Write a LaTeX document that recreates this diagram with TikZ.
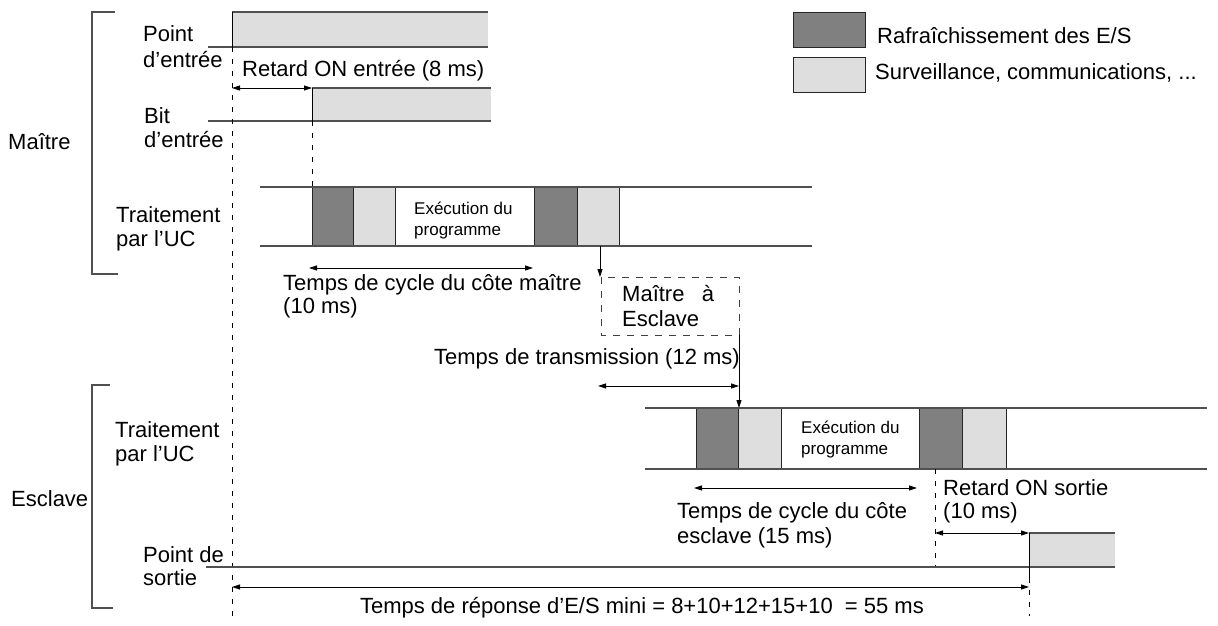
\documentclass[tikz,border=0pt]{standalone}
\usepackage{fontspec}
\setmainfont{Liberation Sans}
\usetikzlibrary{arrows.meta}
\definecolor{iodark}{RGB}{128,128,128}
\definecolor{iolight}{RGB}{222,222,222}
\definecolor{linegray}{RGB}{80,80,80}
\begin{document}
\begin{tikzpicture}[x=1pt,y=-1pt,
  font=\fontsize{22}{26}\selectfont,
  lbl/.style={anchor=base west, inner sep=0pt},
  lble/.style={anchor=base east, inner sep=0pt},
  smalltxt/.style={anchor=base west, inner sep=0pt, font=\fontsize{17}{20}\selectfont},
  darkblk/.style={fill=iodark, draw=black!85, line width=0.9pt},
  lightblk/.style={fill=iolight, draw=black!85, line width=0.9pt},
  track/.style={draw=linegray, line width=1.2pt},
  edge/.style={draw=black, line width=1pt},
  guide/.style={draw=black, line width=0.8pt, dash pattern=on 5pt off 7pt},
  dim/.style={{Triangle[length=8pt,width=5pt]}-{Triangle[length=8pt,width=5pt]}, line width=0.8pt},
  onearrow/.style={-{Triangle[length=8pt,width=5pt]}, line width=0.8pt},
  brk/.style={draw=linegray, line width=1.5pt},
  dbox/.style={draw=black!75, line width=0.9pt, dash pattern=on 7pt off 7pt}]
\useasboundingbox (0,0) rectangle (1218,626);

% ---------- legend ----------
\draw[darkblk] (793,12) rectangle (865,47);
\draw[lightblk] (793,57) rectangle (865,92);
\node[lbl] (legdark) at (877,44) {Rafraîchissement des E/S};
\node[lbl] (leglight) at (875,79) {Surveillance, communications, ...};

% ---------- brackets ----------
\draw[brk] (115,12) -- (92,12) -- (92,274) -- (118,274);
\node[lbl] (maitre) at (8,149) {Maître};
\draw[brk] (110,385) -- (92,385) -- (92,608) -- (113,608);
\node[lbl] (esclave) at (11,506) {Esclave};

% ---------- input point ----------
\fill[iolight] (232,12) rectangle (488,47);
\draw[track] (232,12) -- (488,12);
\draw[track] (208,47) -- (488,47);
\draw[edge] (232,12) -- (232,47);
\node[lbl] (pe1) at (143,42) {Point};
\node[lbl] (pe2) at (143,67) {d’entrée};

% ---------- input bit ----------
\fill[iolight] (312,88) rectangle (491,121);
\draw[track] (312,88) -- (491,88);
\draw[track] (208,121) -- (491,121);
\draw[edge] (312,88) -- (312,121);
\node[lbl] (be1) at (144,123) {Bit};
\node[lbl] (be2) at (144,147) {d’entrée};

% guides
\coordinate (gTop) at (232,47);
\coordinate (gBot) at (232,616);
\draw[guide] (gTop) -- (gBot);
\coordinate (g2Top) at (312,121);
\coordinate (g2Bot) at (312,187);
\draw[guide] (g2Top) -- (g2Bot);

\node[lbl] (retin) at (242,77) {Retard ON entrée (8 ms)};
\coordinate (inL) at (232,88);
\coordinate (inR) at (312,88);
\draw[dim] (inL) -- (inR);

% ---------- master CPU ----------
\draw[darkblk] (312,187) rectangle (353,246);
\draw[lightblk] (353,187) rectangle (395,246);
\draw[darkblk] (534,187) rectangle (577,246);
\draw[lightblk] (577,187) rectangle (619,246);
\draw[track] (260,187) -- (812,187);
\draw[track] (260,246) -- (812,246);
\node[smalltxt] (mex1) at (414,214) {Exécution du};
\node[smalltxt] (mex2) at (414,235) {programme};
\node[lbl] (mt1) at (116,222) {Traitement};
\node[lbl] (mt2) at (116,246) {par l’UC};

\coordinate (mcL) at (309,268);
\coordinate (mcR) at (533,268);
\draw[dim] (mcL) -- (mcR);
\node[lbl] (mcy1) at (283,290) {Temps de cycle du côte maître};
\node[lbl] (mcy2) at (283,313) {(10 ms)};

% ---------- master -> slave ----------
\coordinate (sendTop) at (600,246);
\draw[dbox] (601,277) rectangle (739,335);
\coordinate (sendBot) at (600,277);
\draw[onearrow] (sendTop) -- (sendBot);
\node[anchor=base west, inner sep=0pt, text width=92pt] (m2s1) at (622,301) {Maître\hfill à};
\node[lbl] (m2s2) at (622,326) {Esclave};

\node[lble] (trans) at (740,364) {Temps de transmission (12 ms)};
\coordinate (trL) at (598,386);
\coordinate (trR) at (739,386);
\draw[dim] (trL) -- (trR);
\coordinate (recvTop) at (739,335);
\coordinate (recvBot) at (739,408);
\draw[onearrow] (recvTop) -- (recvBot);

% ---------- slave CPU ----------
\draw[darkblk] (696,408) rectangle (738,469);
\draw[lightblk] (738,408) rectangle (781,469);
\draw[darkblk] (919,408) rectangle (962,469);
\draw[lightblk] (962,408) rectangle (1006,469);
\draw[track] (645,408) -- (1207,408);
\draw[track] (645,469) -- (1207,469);
\node[smalltxt] (sex1) at (801,433) {Exécution du};
\node[smalltxt] (sex2) at (801,454) {programme};
\node[lbl] (st1) at (115,437) {Traitement};
\node[lbl] (st2) at (115,461) {par l’UC};

\coordinate (scL) at (694,488);
\coordinate (scR) at (917,488);
\draw[dim] (scL) -- (scR);
\node[lbl] (scy1) at (677,518) {Temps de cycle du côte};
\node[lbl] (scy2) at (677,543) {esclave (15 ms)};

% output delay
\coordinate (g3Top) at (935,469);
\coordinate (g3Bot) at (935,567);
\draw[guide] (g3Top) -- (g3Bot);
\node[lbl] (retout1) at (943,495) {Retard ON sortie};
\node[lbl] (retout2) at (943,518) {(10 ms)};
\coordinate (outL) at (935,533);
\coordinate (outR) at (1029,533);
\draw[dim] (outL) -- (outR);

% ---------- output point ----------
\fill[iolight] (1029,533) rectangle (1115,567);
\draw[track] (1029,533) -- (1115,533);
\draw[track] (206,567) -- (1115,567);
\draw[edge] (1029,533) -- (1029,578);
\coordinate (g4Top) at (1029,578);
\coordinate (g4Bot) at (1029,616);
\draw[guide] (g4Top) -- (g4Bot);
\node[lbl] (ps1) at (143,562) {Point de};
\node[lbl] (ps2) at (143,585) {sortie};

% total response
\coordinate (totL) at (232,587);
\coordinate (totR) at (1029,587);
\draw[dim] (totL) -- (totR);
\node[anchor=base, inner sep=0pt] (total) at (642,613) {Temps de réponse d’E/S mini = 8+10+12+15+10 \ = 55 ms};
\end{tikzpicture}
\end{document}
